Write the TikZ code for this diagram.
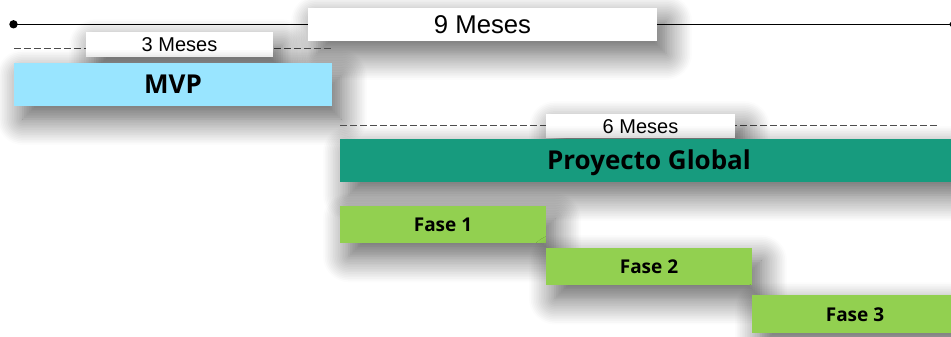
\documentclass[tikz,border=0pt]{standalone}
\usepackage{fontspec}
\setmainfont{Liberation Sans}
\newfontfamily\osans{Open Sans}
\usetikzlibrary{shadows.blur}
\definecolor{mvpblue}{RGB}{153,229,255}
\definecolor{globteal}{RGB}{23,155,126}
\definecolor{fasegreen}{RGB}{146,208,80}
\tikzset{
    SH/.style ={blur shadow={shadow xshift=9pt, shadow yshift=-13pt, shadow blur radius=26pt, shadow blur steps=16, shadow opacity=65}},
    BX/.style ={rectangle, inner sep=0pt, text height=18.5pt, text depth=0pt, font=\osans\bfseries\fontsize{26}{26}\selectfont, SH},
    FS/.style ={BX, fill=fasegreen, minimum width=206pt, minimum height=37.5pt, text height=14pt, font=\osans\bfseries\fontsize{19}{19}\selectfont},
    LB1/.style ={rectangle, fill=white, inner sep=0pt, text height=18.4pt, text depth=0pt, font=\fontsize{25.7}{26}\selectfont, SH},
    LB2/.style ={rectangle, fill=white, inner sep=0pt, text height=14pt, text depth=0pt, font=\fontsize{20}{20}\selectfont, SH},
    DL/.style ={dash pattern=on 7pt off 3pt, black!70, line width=0.9pt}}

\begin{document}
\begin{tikzpicture}[x=1pt,y=-1pt]
        \useasboundingbox (0,0) rectangle (951,337);
        % timeline
        \coordinate (t0) at (13.5,24.3);
        \coordinate (t1) at (952,24.3);
        \draw[line width=1.1pt] (t0)--(t1);
        \fill (t0) circle (4.2pt);
        \fill (t1) circle (2.5pt);
        \node[LB1, minimum width=349pt, minimum height=32.5pt] (m9) at (482.5,24.5){9 Meses};
        % MVP
        \coordinate (d0) at (14,48.3);
        \coordinate (d1) at (331,48.3);
        \draw[DL] (d0)--(d1);
        \node[LB2, minimum width=187pt, minimum height=24.5pt] (m3) at (179.5,44.5){3 Meses};
        \node[BX, fill=mvpblue, minimum width=318pt, minimum height=43pt] (mvp) at (173,84.5){MVP};
        % proyecto
        \coordinate (g0) at (340,125.7);
        \coordinate (g1) at (940,125.7);
        \draw[DL] (g0)--(g1);
        \node[LB2, minimum width=189pt, minimum height=24pt] (m6) at (640.5,126){6 Meses};
        \node[BX, fill=globteal, minimum width=618pt, minimum height=43pt] (glob) at (649,160.5){Proyecto Global};
        \node[FS] (f1) at (443,224.5){Fase 1};
        \node[FS] (f2) at (649,266.7){Fase 2};
        \node[FS] (f3) at (855,314){Fase 3};
    \end{tikzpicture}
\end{document}
